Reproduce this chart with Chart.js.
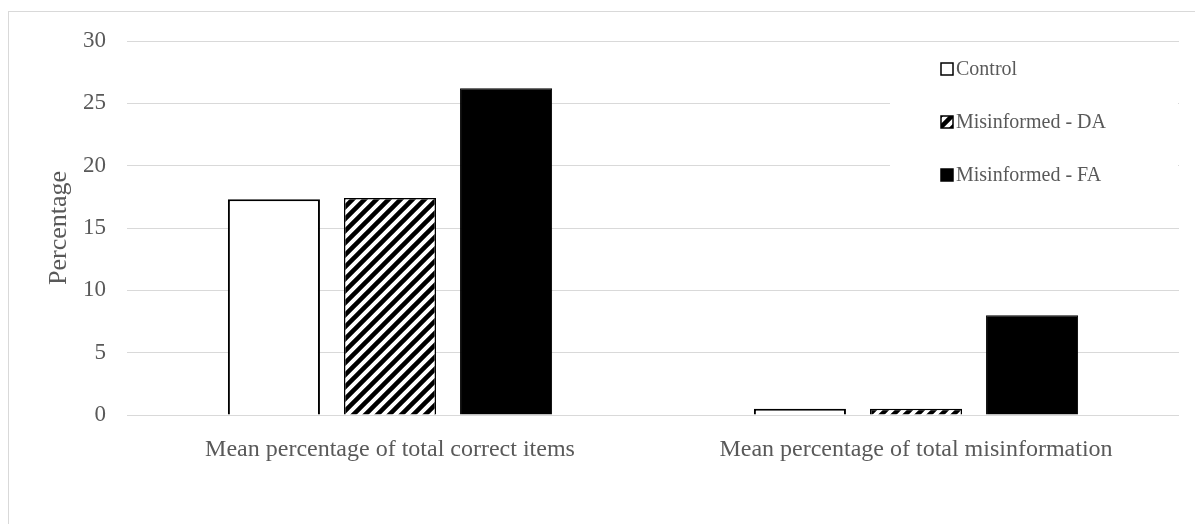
<!doctype html>
<html>
  <head>
    <meta charset="utf-8">
    <title>Mean percentage chart</title>
    <style>
      html, body {
        margin: 0;
        height: 100%;
        background: #fff;
        overflow: hidden;
      }
      #frame {
        position: absolute;
        left: 8px;
        top: 11px;
        width: 1300px;
        height: 700px;
        border: 1px solid #d9d9d9;
      }
      #wrap {
        position: absolute;
        left: 0;
        top: 0;
        width: 1195px;
        height: 524px;
      }
    </style>
  </head>
  <body>
    <div id="frame"></div>
    <div id="wrap">
      <canvas id="canvas"></canvas>
    </div>

    <script src="https://cdn.jsdelivr.net/npm/chart.js@4/dist/chart.umd.min.js"></script>
    <script>
      var categories = ['Mean percentage of total correct items', 'Mean percentage of total misinformation']
      var seriesNames = ['Control', 'Misinformed - DA', 'Misinformed - FA']
      var controlValues = [17.3, 0.5]
      var daValues = [17.4, 0.5]
      var faValues = [26.2, 8.0]
      var yTicks = [0, 5, 10, 15, 20, 25, 30]

      var serif = '"Liberation Serif", "Times New Roman", serif'
      var grey = '#595959'

      // diagonal hatch like the Excel "wide upward diagonal" fill
      var makeHatch = function() {
        var c = document.createElement('canvas')
        c.width = 12
        c.height = 12
        var g = c.getContext('2d')
        g.fillStyle = '#fff'
        g.fillRect(0, 0, 12, 12)
        g.strokeStyle = '#000'
        g.lineWidth = 4.5
        g.beginPath()
        g.moveTo(-3, 15); g.lineTo(15, -3)
        g.moveTo(-9, 9); g.lineTo(9, -9)
        g.moveTo(3, 21); g.lineTo(21, 3)
        g.stroke()
        return g.createPattern(c, 'repeat')
      }
      var hatch = makeHatch()

      var boxLegend = {
        id: 'boxLegend',
        afterDraw: function(chart) {
          var ctx = chart.ctx
          ctx.save()
          ctx.fillStyle = '#fff'
          ctx.fillRect(890, 45, 288, 160)
          ctx.font = '20px ' + serif
          ctx.textBaseline = 'middle'
          chart.data.datasets.forEach(function(ds, i) {
            var y = 69 + i * 53
            ctx.fillStyle = ds.backgroundColor
            ctx.fillRect(941, y - 6, 12, 12)
            ctx.strokeStyle = '#000'
            ctx.lineWidth = 1.5
            ctx.strokeRect(941, y - 6, 12, 12)
            ctx.fillStyle = grey
            ctx.fillText(ds.label, 956, y + 1)
          })
          ctx.restore()
        }
      }

      var ctx = document.getElementById('canvas').getContext('2d')
      window.my_chart = new Chart(ctx, {
        type: 'bar',
        data: {
          labels: categories,
          datasets: [
            { label: seriesNames[0], data: controlValues, backgroundColor: '#ffffff', borderColor: '#000', borderWidth: 2 },
            { label: seriesNames[1], data: daValues, backgroundColor: hatch, borderColor: '#000', borderWidth: 1.5 },
            { label: seriesNames[2], data: faValues, backgroundColor: '#000000', borderColor: '#000', borderWidth: 1 }
          ]
        },
        options: {
          responsive: true,
          maintainAspectRatio: false,
          animation: false,
          categoryPercentage: 0.662,
          barPercentage: 0.793,
          layout: { padding: { left: 44, right: 16, top: 41, bottom: 0 } },
          plugins: {
            legend: { display: false },
            tooltip: { enabled: false }
          },
          scales: {
            x: {
              grid: { display: false, drawTicks: false },
              border: { display: false },
              ticks: { color: grey, font: { family: serif, size: 24 }, padding: 20, maxRotation: 0 },
              afterFit: function(scale) { scale.height = 109 }
            },
            y: {
              min: 0,
              max: 30,
              afterBuildTicks: function(scale) {
                scale.ticks = yTicks.map(function(v) { return { value: v } })
              },
              grid: { color: '#d9d9d9', lineWidth: 1, drawTicks: false },
              border: { display: false },
              ticks: { color: grey, font: { family: serif, size: 23 }, padding: 21 },
              title: { display: true, text: 'Percentage', color: grey, font: { family: serif, size: 26 }, padding: 0 },
              afterFit: function(scale) { scale.width = 83 }
            }
          }
        },
        plugins: [boxLegend]
      })
    </script>
  </body>
</html>
